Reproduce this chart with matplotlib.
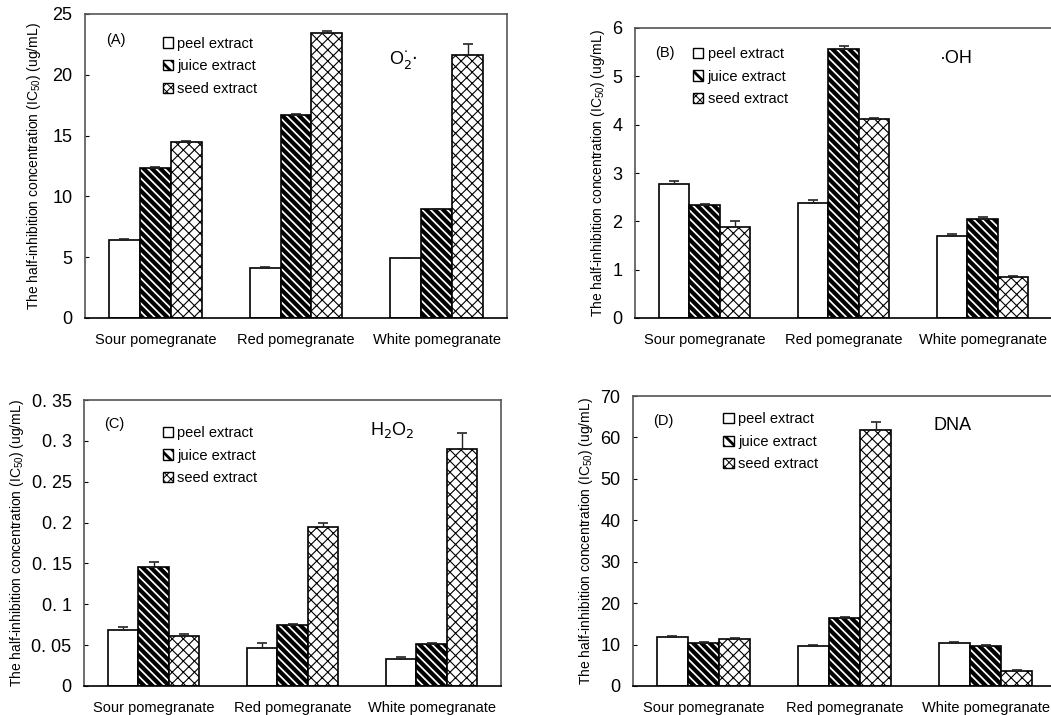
import numpy as np
import matplotlib
matplotlib.use("Agg")
import matplotlib.pyplot as plt
from matplotlib.patches import Patch

plt.rcParams['font.family'] = ['Liberation Sans', 'DejaVu Sans']
plt.rcParams['hatch.color'] = 'black'

cats = ["Sour pomegranate", "Red pomegranate", "White pomegranate"]
series = ["peel extract", "juice extract", "seed extract"]

# panel A, O2-.
a_peel = [6.4, 4.1, 4.95]
a_juice = [12.35, 16.7, 8.95]
a_seed = [14.5, 23.4, 21.65]
a_err = [[0.08, 0.06, 0.0], [0.06, 0.08, 0.0], [0.08, 0.2, 0.9]]

# panel B, .OH
b_peel = [2.78, 2.38, 1.69]
b_juice = [2.34, 5.57, 2.05]
b_seed = [1.88, 4.12, 0.85]
b_err = [[0.05, 0.07, 0.04], [0.02, 0.05, 0.05], [0.13, 0.02, 0.02]]

# panel C, H2O2
c_peel = [0.068, 0.047, 0.033]
c_juice = [0.146, 0.075, 0.052]
c_seed = [0.061, 0.194, 0.29]
c_err = [[0.004, 0.006, 0.003], [0.006, 0.001, 0.001], [0.003, 0.006, 0.02]]

# panel D, DNA
d_peel = [11.9, 9.6, 10.45]
d_juice = [10.45, 16.5, 9.6]
d_seed = [11.25, 61.8, 3.7]
d_err = [[0.2, 0.4, 0.2], [0.1, 0.1, 0.2], [0.3, 2.0, 0.1]]

hatches = ['', '\\\\\\\\', 'xxx']
hlw = [1.0, 3.0, 0.8]
leg_hatches = ['', '\\\\\\', 'xxxx']
leg_hlw = [1.0, 2.0, 0.7]

fig = plt.figure(figsize=(10.51, 7.15), dpi=100)
W, H = 1051, 715


def make_ax(l, r, t, b):
    return fig.add_axes([l / W, (H - b) / H, (r - l) / W, (b - t) / H])


def panel(ax, vals, errs, ymax, yticks, ylabels, tag, species, spec_xy, leg_xy, right=True):
    x = np.arange(len(cats))
    w = 0.22
    for i, v in enumerate(vals):
        bars = ax.bar(x + (i - 1) * w, v, w, color='white', edgecolor='black',
                      linewidth=1.2, hatch=hatches[i], zorder=2)
        for p in bars:
            if hasattr(p, 'set_hatch_linewidth'):
                p.set_hatch_linewidth(hlw[i])
        ax.errorbar(x + (i - 1) * w, v, yerr=[np.zeros(3), errs[i]], fmt='none',
                    ecolor='#222222', elinewidth=1.0, capsize=3.5, capthick=1.2, zorder=3)
    ax.set_xlim(-0.5, 2.5)
    ax.set_ylim(0, ymax)
    ax.set_yticks(yticks)
    ax.set_yticklabels(ylabels)
    ax.set_xticks(x)
    ax.set_xticklabels(cats)
    ax.tick_params(axis='x', length=0, pad=11, labelsize=10.5)
    ax.tick_params(axis='y', length=3, direction='in', pad=9, labelsize=13)
    for s in ['left', 'top', 'right']:
        ax.spines[s].set_color('#555555')
        ax.spines[s].set_linewidth(1.2)
    ax.spines['bottom'].set_linewidth(1.2)
    ax.spines['right'].set_visible(right)
    ax.set_ylabel(r'The half-inhibition concentration (IC$_{\mathregular{50}}$) (ug/mL)', fontsize=10)
    ax.text(0.072, 0.915, tag, transform=ax.transAxes, fontsize=10.5, ha='center', va='center')
    ax.text(spec_xy[0], spec_xy[1], species, transform=ax.transAxes, fontsize=13,
            ha='center', va='center')
    handles = [Patch(facecolor='white', edgecolor='black', linewidth=1.0, hatch=leg_hatches[i])
               for i in range(3)]
    leg = ax.legend(handles, series, loc='upper left', bbox_to_anchor=leg_xy, frameon=False,
                    handlelength=0.7, handleheight=0.7, handletextpad=0.3, labelspacing=0.6,
                    fontsize=10.5, borderaxespad=0)
    for i, p in enumerate(leg.get_patches()):
        p.set_hatch(leg_hatches[i])
        if hasattr(p, 'set_hatch_linewidth'):
            p.set_hatch_linewidth(leg_hlw[i])


ax_a = make_ax(85, 507, 14, 318)
panel(ax_a, [a_peel, a_juice, a_seed], a_err, 25, [0, 5, 10, 15, 20, 25],
      ['0', '5', '10', '15', '20', '25'], '(A)', r'O$_{2}^{\cdot}$$\cdot$', (0.755, 0.85),
      (0.17, 0.945))
ax_a.yaxis.set_label_coords(-0.10, 0.5)

ax_b = make_ax(635, 1052, 28, 318)
panel(ax_b, [b_peel, b_juice, b_seed], b_err, 6, [0, 1, 2, 3, 4, 5, 6],
      ['0', '1', '2', '3', '4', '5', '6'], '(B)', '·OH', (0.77, 0.895),
      (0.125, 0.955), right=False)
ax_b.yaxis.set_label_coords(-0.067, 0.5)

ax_c = make_ax(84, 501, 400, 686)
panel(ax_c, [c_peel, c_juice, c_seed], c_err, 0.35,
      [0, 0.05, 0.1, 0.15, 0.2, 0.25, 0.3, 0.35],
      ['0', '0. 05', '0. 1', '0. 15', '0. 2', '0. 25', '0. 3', '0. 35'], '(C)',
      r'H$_2$O$_2$', (0.74, 0.895), (0.175, 0.93))
ax_c.yaxis.set_label_coords(-0.14, 0.5)

ax_d = make_ax(633, 1056, 396, 686)
panel(ax_d, [d_peel, d_juice, d_seed], d_err, 70, [0, 10, 20, 30, 40, 50, 60, 70],
      ['0', '10', '20', '30', '40', '50', '60', '70'], '(D)', 'DNA', (0.755, 0.9),
      (0.2, 0.965), right=False)
ax_d.yaxis.set_label_coords(-0.09, 0.5)

fig.savefig('out.png', dpi=100)
